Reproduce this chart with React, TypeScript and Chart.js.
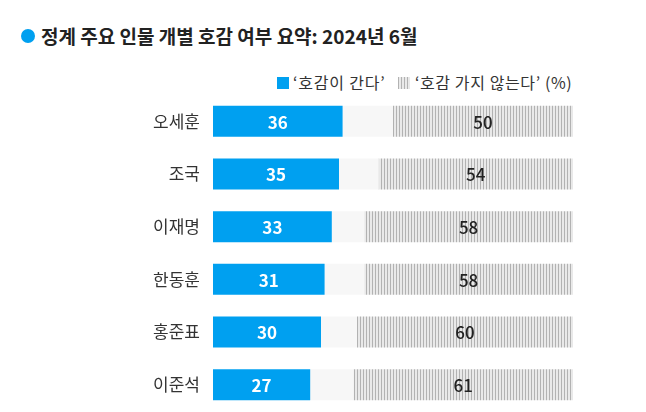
import React, { useEffect, useRef } from "react";
import { Chart, registerables } from "chart.js";

Chart.register(...registerables);

const categories = ["오세훈", "조국", "이재명", "한동훈", "홍준표", "이준석"];
const positive = [36, 35, 33, 31, 30, 27];
const negative = [50, 54, 58, 58, 60, 61];
const other = positive.map((p, i) => 100 - p - negative[i]);

const FONT = "'Noto Sans CJK KR', 'Noto Sans', sans-serif";
const BLUE = "#00a0f0";

function makePattern(): CanvasPattern | string {
  const c = document.createElement("canvas");
  c.width = 3;
  c.height = 4;
  const g = c.getContext("2d");
  if (!g) return "#ccc";
  g.fillStyle = "#e9e9e9";
  g.fillRect(0, 0, 3, 4);
  g.fillStyle = "#b2b2b2";
  g.fillRect(0, 0, 1, 4);
  const ctx = document.createElement("canvas").getContext("2d");
  return (ctx && ctx.createPattern(c, "repeat")) || "#ccc";
}

function HatchIcon() {
  const ref = useRef<HTMLCanvasElement>(null);
  useEffect(() => {
    const cv = ref.current;
    if (!cv) return;
    const g = cv.getContext("2d");
    if (!g) return;
    g.fillStyle = "#e9e9e9";
    g.fillRect(0, 0, 12, 12);
    g.fillStyle = "#b2b2b2";
    for (let x = 0; x < 12; x += 3) g.fillRect(x, 0, 1, 12);
  }, []);
  return <canvas ref={ref} width={12} height={12} style={{ position: "absolute", left: 398, top: 77 }} />;
}

export default function App() {
  const canvasRef = useRef<HTMLCanvasElement>(null);

  useEffect(() => {
    const canvas = canvasRef.current;
    if (!canvas) return;
    const pattern = makePattern();

    const labelPlugin = {
      id: "valueLabels",
      afterDatasetsDraw(chart: any) {
        const ctx = chart.ctx;
        ctx.save();
        ctx.textAlign = "center";
        ctx.textBaseline = "middle";
        [0, 2].forEach((di) => {
          const meta = chart.getDatasetMeta(di);
          meta.data.forEach((bar: any, i: number) => {
            const x = (bar.x + bar.base) / 2;
            const val = chart.data.datasets[di].data[i];
            ctx.fillStyle = di === 0 ? "#ffffff" : "#222222";
            ctx.font = di === 0 ? `bold 17px ${FONT}` : `500 17px ${FONT}`;
            ctx.fillText(String(val), x, bar.y + 1);
          });
        });
        ctx.restore();
      },
    };

    const chart = new Chart(canvas, {
      type: "bar",
      data: {
        labels: categories,
        datasets: [
          { label: "‘호감이 간다’", data: positive, backgroundColor: BLUE },
          { label: "기타", data: other, backgroundColor: "#f7f7f7" },
          { label: "‘호감 가지 않는다’", data: negative, backgroundColor: pattern as any },
        ],
      },
      options: {
        indexAxis: "y",
        animation: false,
        responsive: false,
        events: [],
        layout: { padding: { top: 95, right: 73, bottom: 1, left: 0 } },
        datasets: { bar: { barPercentage: 0.59, categoryPercentage: 1 } } as any,
        plugins: { legend: { display: false }, tooltip: { enabled: false }, title: { display: false } },
        scales: {
          x: { stacked: true, min: 0, max: 100, display: false },
          y: {
            stacked: true,
            grid: { display: false, drawTicks: false },
            border: { display: false },
            ticks: { color: "#333333", font: { family: FONT, size: 17 }, padding: 13 },
            afterFit(scale: any) {
              scale.width = 213;
              scale.paddingTop = 0;
              scale.paddingBottom = 0;
            },
          },
        },
      },
      plugins: [labelPlugin],
    });
    return () => chart.destroy();
  }, []);

  return (
    <div style={{ position: "fixed", left: 0, top: 0, width: 646, height: 412, background: "#fff", fontFamily: FONT }}>
      <span style={{ position: "absolute", left: 21, top: 29, width: 14, height: 14, borderRadius: 7, background: BLUE }} />
      <div style={{ position: "absolute", left: 41, top: 24, fontSize: 19, lineHeight: "24px", fontWeight: "bold", color: "#222", whiteSpace: "nowrap" }}>
        정계 주요 인물 개별 호감 여부 요약: 2024년 6월
      </div>
      <span style={{ position: "absolute", left: 277, top: 77, width: 12, height: 12, background: BLUE }} />
      <div style={{ position: "absolute", left: 293, top: 71, fontSize: 16, lineHeight: "22px", color: "#333", whiteSpace: "nowrap", letterSpacing: "0.8px" }}>
        ‘호감이 간다’
      </div>
      <HatchIcon />
      <div style={{ position: "absolute", left: 415, top: 71, fontSize: 16, lineHeight: "22px", color: "#333", whiteSpace: "nowrap", letterSpacing: "0.6px" }}>
        ‘호감 가지 않는다’ (%)
      </div>
      <canvas ref={canvasRef} width={646} height={412} style={{ position: "absolute", left: 0, top: 0 }} />
    </div>
  );
}
